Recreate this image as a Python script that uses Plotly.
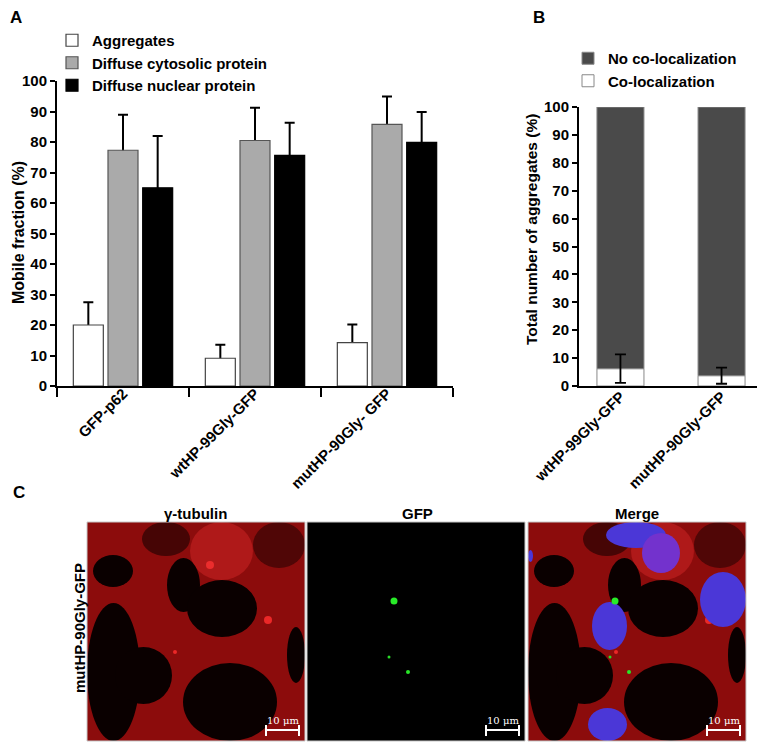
import plotly.graph_objects as go

W, H = 765, 744

# panel A data
groups_a = ['GFP-p62', 'wtHP-99Gly-GFP', 'mutHP-90Gly- GFP']
aggregates = [20.0, 9.1, 14.2]
aggregates_err = [7.5, 4.4, 6.0]
cytosolic = [77.3, 80.5, 85.8]
cytosolic_err = [11.6, 10.7, 9.1]
nuclear = [65.0, 75.6, 79.9]
nuclear_err = [17.0, 10.7, 9.9]

# panel B data
groups_b = ['wtHP-99Gly-GFP', 'mutHP-90Gly-GFP']
coloc = [6.2, 3.7]
coloc_err = [5.1, 2.9]
no_coloc = [100 - v for v in coloc]

FONT = 'Liberation Sans, Arial, sans-serif'
OFF = 8  # page body margin


def px(x):
    return (x - OFF) / W


def py(y):
    return 1 - (y - OFF) / H


fig = go.Figure()

series_a = [
    ('Aggregates', aggregates, aggregates_err, 'white', '#444'),
    ('Diffuse cytosolic protein', cytosolic, cytosolic_err, '#aaaaaa', '#555'),
    ('Diffuse nuclear protein', nuclear, nuclear_err, 'black', 'black'),
]

# ---- panel A: error bars first (lower arm hidden under the bar and axis)
for name, vals, errs, fill, edge in series_a:
    fig.add_trace(go.Bar(
        x=groups_a, y=vals, name=name, offsetgroup=name, showlegend=False,
        marker=dict(color='rgba(0,0,0,0)', line=dict(width=0)),
        error_y=dict(type='data', symmetric=False, array=errs,
                     arrayminus=vals, color='black', thickness=2, width=5),
        hoverinfo='skip', xaxis='x', yaxis='y'))
for name, vals, errs, fill, edge in series_a:
    fig.add_trace(go.Bar(
        x=groups_a, y=vals, name=name, offsetgroup=name, legend='legend',
        marker=dict(color=fill, line=dict(color=edge, width=1.2)),
        xaxis='x', yaxis='y'))

# ---- panel B
fig.add_trace(go.Bar(
    x=groups_b, y=coloc, name='Co-localization', legend='legend2',
    offsetgroup='b', width=0.465,
    marker=dict(color='white', line=dict(color='#888', width=1)),
    xaxis='x2', yaxis='y2'))
fig.add_trace(go.Bar(
    x=groups_b, y=no_coloc, base=coloc, name='No co-localization',
    legend='legend2', offsetgroup='b', width=0.465,
    marker=dict(color='#4a4a4a', line=dict(color='#888', width=1)),
    xaxis='x2', yaxis='y2'))
fig.add_trace(go.Scatter(
    x=groups_b, y=coloc, mode='markers', marker=dict(opacity=0),
    showlegend=False, hoverinfo='skip',
    error_y=dict(type='data', array=coloc_err, color='black',
                 thickness=1.8, width=5.5),
    xaxis='x2', yaxis='y2'))

tickfont = dict(family=FONT, size=15, color='black', weight='bold')
xfont = dict(family=FONT, size=15, color='black', weight='bold')
legfont = dict(family=FONT, size=15, color='black', weight='bold')

fig.update_layout(
    width=W, height=H, margin=dict(l=0, r=0, t=0, b=0, autoexpand=False),
    paper_bgcolor='white', plot_bgcolor='rgba(0,0,0,0)',
    barmode='group', bargap=0.212, bargroupgap=0.135,
    font=dict(family=FONT, color='black'),
    xaxis=dict(domain=[px(57), px(453)], anchor='y', showline=True,
               linecolor='black', linewidth=2, ticks='outside',
               tickson='boundaries', ticklen=9, tickwidth=2,
               tickcolor='black', tickangle=-45, automargin=False,
               ticklabelstandoff=-9, tickfont=xfont,
               showgrid=False, zeroline=False),
    yaxis=dict(domain=[py(386), py(81)], anchor='x', range=[0, 100],
               dtick=10, showline=True, linecolor='black', linewidth=2,
               ticks='outside', ticklen=5, tickwidth=2, tickcolor='black',
               tickfont=tickfont, showgrid=False, zeroline=False,
               automargin=False),
    xaxis2=dict(domain=[px(579), px(763)], anchor='y2', range=[-0.41, 1.41],
                showline=True, linecolor='black', linewidth=2, ticks='',
                tickangle=-45, automargin=False, ticklabelstandoff=-6,
                tickfont=xfont, showgrid=False, zeroline=False),
    yaxis2=dict(domain=[py(386), py(107)], anchor='x2', range=[0, 100],
                dtick=10, showline=True, linecolor='black', linewidth=2,
                ticks='outside', ticklen=5, tickwidth=2, tickcolor='black',
                tickfont=tickfont, showgrid=False, zeroline=False,
                automargin=False),
    legend=dict(x=px(52), y=py(24), xanchor='left', yanchor='top',
                bgcolor='rgba(0,0,0,0)', traceorder='normal',
                font=legfont, tracegroupgap=0),
    legend2=dict(x=px(568), y=py(42), xanchor='left', yanchor='top',
                 bgcolor='rgba(0,0,0,0)', traceorder='reversed',
                 font=legfont),
)

# ---- panel C (micrographs drawn as simple shapes)
shapes = []
IMG = [(87, 522), (307, 522), (528, 522)]
S = 218


def rect(x0, y0, x1, y1, fill, line=None):
    shapes.append(dict(type='rect', xref='paper', yref='paper',
                       x0=px(x0), x1=px(x1), y0=py(y1), y1=py(y0),
                       fillcolor=fill,
                       line=dict(width=1 if line else 0, color=line or fill)))


def ell(ox, oy, lx0, ly0, lx1, ly1, fill):
    shapes.append(dict(type='circle', xref='paper', yref='paper',
                       x0=px(ox + lx0), x1=px(ox + lx1),
                       y0=py(oy + ly1), y1=py(oy + ly0),
                       fillcolor=fill, line=dict(width=0)))


def red_field(ox, oy):
    rect(ox, oy, ox + S, oy + S + 1, 'rgb(140,12,12)')
    ell(ox, oy, 103, 0, 166, 58, 'rgb(175,25,25)')
    ell(ox, oy, 55, 0, 103, 34, 'rgb(70,5,5)')
    ell(ox, oy, 166, 0, 218, 46, 'rgb(80,6,6)')
    dark = 'rgb(10,0,0)'
    ell(ox, oy, 6, 33, 46, 65, dark)
    ell(ox, oy, 80, 36, 113, 90, dark)
    ell(ox, oy, 100, 58, 170, 115, dark)
    ell(ox, oy, 0, 81, 53, 219, dark)
    ell(ox, oy, 28, 125, 85, 182, dark)
    ell(ox, oy, 96, 141, 190, 219, dark)
    ell(ox, oy, 200, 105, 218, 161, dark)
    ell(ox, oy, 119, 39, 127, 47, 'rgb(235,45,45)')
    ell(ox, oy, 177, 94, 185, 102, 'rgb(235,40,40)')
    ell(ox, oy, 86, 128, 90, 132, 'rgb(235,40,40)')


def green_dots(ox, oy):
    ell(ox, oy, 83.5, 75.5, 90.5, 82.5, 'rgb(40,235,40)')
    ell(ox, oy, 80.5, 133.5, 83.5, 136.5, 'rgb(40,220,40)')
    ell(ox, oy, 99, 148, 103, 152, 'rgb(40,230,40)')


# tubulin
red_field(*IMG[0])
# GFP
rect(IMG[1][0], IMG[1][1], IMG[1][0] + S, IMG[1][1] + S + 1, 'black')
green_dots(*IMG[1])
# merge
red_field(*IMG[2])
blue = 'rgb(75,55,215)'
ox, oy = IMG[2]
ell(ox, oy, 78, 0, 138, 26, blue)
ell(ox, oy, 114, 11, 152, 51, 'rgb(115,50,205)')
ell(ox, oy, 172, 50, 218, 105, blue)
ell(ox, oy, 64, 80, 99, 128, blue)
ell(ox, oy, 60, 186, 99, 219, blue)
ell(ox, oy, 0, 28, 5, 40, blue)
green_dots(ox, oy)

# frames and scale bars
for ox, oy in IMG:
    rect(ox, oy, ox + S, oy + S + 1, 'rgba(0,0,0,0)', line='#c8c8c8')
    shapes.append(dict(type='line', xref='paper', yref='paper',
                       x0=px(ox + 179), x1=px(ox + 212),
                       y0=py(oy + 208), y1=py(oy + 208),
                       line=dict(color='white', width=2)))
    for xx in (179, 212):
        shapes.append(dict(type='line', xref='paper', yref='paper',
                           x0=px(ox + xx), x1=px(ox + xx),
                           y0=py(oy + 203), y1=py(oy + 214),
                           line=dict(color='white', width=2)))
    fig.add_annotation(x=px(ox + 196), y=py(oy + 198), xref='paper',
                       yref='paper', text='10 μm', showarrow=False,
                       xanchor='center', yanchor='middle',
                       font=dict(family='DejaVu Serif, serif', size=10,
                                 color='white'))

fig.update_layout(shapes=shapes)

annots = [
    ('A', 16, 18, 17, 0), ('B', 539, 18, 17, 0), ('C', 19, 492, 17, 0),
    ('Mobile fraction (%)', 18, 233, 16, -90),
    ('Total number of aggregates (%)', 532, 230, 15.5, -90),
    ('γ-tubulin', 195, 514, 15, 0), ('GFP', 417, 514, 15, 0),
    ('Merge', 637, 514, 15, 0), ('mutHP-90Gly-GFP', 79, 628, 15, -90),
]
for txt, x, y, size, ang in annots:
    fig.add_annotation(x=px(x), y=py(y), xref='paper', yref='paper',
                       text=txt, showarrow=False, textangle=ang,
                       xanchor='center', yanchor='middle',
                       font=dict(family=FONT, size=size, color='black',
                                 weight='bold'))

fig.write_html('out.html')
